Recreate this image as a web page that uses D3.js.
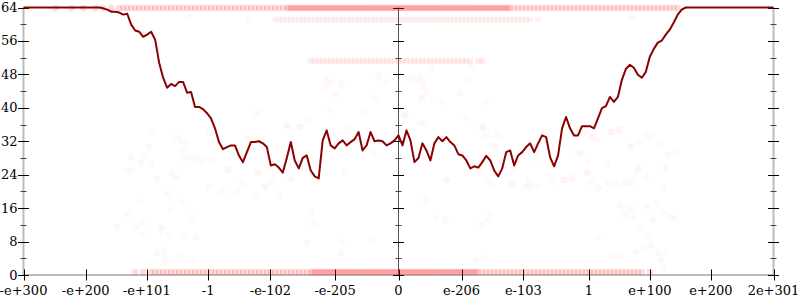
<!DOCTYPE html>
<html>
<head>
<meta charset="utf-8">
<script src="https://cdn.jsdelivr.net/npm/d3@7"></script>
<style>
  body { margin: 0; background: #fff; }
  svg { display: block; font-family: "DejaVu Serif", serif; }
</style>
</head>
<body>
<div id="chart"></div>
<script>
// x positions are in units of the sorted-bit-pattern axis, -94 .. 94
const xTickValues = [-94, -78.4, -63.1, -47.7, -32.1, -15.9, 0, 15.8, 31.3, 47.7, 63.0, 78.3, 94];
const xTickLabels = ['-e+300', '-e+200', '-e+101', '-1', '-e-102', '-e-205', '0',
  'e-206', 'e-103', '1', 'e+100', 'e+200', '2e+301'];
const yMajorTicks = [0, 8, 16, 24, 32, 40, 48, 56, 64];
const yMinorTicks = [4, 12, 20, 28, 36, 44, 52, 60];

// smoothed curve, one sample per axis unit from -94 to 94
const lineValues = [
  64, 64, 64, 64, 64, 64, 64, 64, 64, 64,
  64, 64, 64, 64, 64, 64, 64, 64, 64, 64,
  63.8, 63.5, 63.0, 63.0, 62.8, 62.3, 62.5, 59.9, 58.5, 58.2,
  57.0, 57.5, 58.2, 56.3, 50.8, 47.2, 44.8, 45.7, 45.2, 46.2,
  46.2, 43.6, 43.8, 40.2, 40.2, 39.7, 38.7, 37.5, 35.1, 31.8,
  30.1, 30.6, 31.0, 31.0, 28.6, 27.0, 29.4, 31.8, 31.8, 32.0,
  31.5, 30.6, 26.2, 26.5, 25.7, 24.5, 28.0, 31.8, 27.4, 25.5,
  28.0, 28.6, 25.0, 23.6, 23.1, 32.2, 34.6, 31.0, 30.3, 31.5,
  32.2, 31.0, 31.8, 32.5, 34.2, 29.8, 31.0, 34.2, 32.0, 32.2,
  32.0, 31.0, 31.5, 32.2, 33.4, 31.0, 34.6, 32.2, 27.0, 28.0,
  31.5, 29.8, 27.4, 31.5, 33.0, 32.0, 33.0, 31.8, 31.0, 28.9,
  28.6, 27.4, 25.5, 26.0, 25.7, 27.0, 28.5, 27.4, 25.0, 23.6,
  25.5, 29.4, 29.8, 26.2, 28.6, 29.4, 30.6, 31.5, 29.4, 31.5,
  33.4, 33.0, 28.2, 26.0, 28.6, 35.1, 37.8, 35.1, 33.4, 33.4,
  35.6, 35.6, 35.6, 35.1, 37.5, 39.9, 40.4, 42.6, 41.4, 42.6,
  46.7, 49.3, 50.3, 49.6, 47.9, 47.2, 48.6, 52.2, 54.1, 55.6,
  56.1, 57.5, 58.7, 60.4, 62.3, 63.5, 64, 64, 64, 64,
  64, 64, 64, 64, 64, 64, 64, 64, 64, 64,
  64, 64, 64, 64, 64, 64, 64, 64, 64
];

// dense rows of samples
const topBandY = 63.9;
const topBandX = [-86, -82, -79, -76, -74, -72,
  -70, -69, -68, -67, -66, -65, -64, -63, -62, -61, -60, -59, -58, -57, -56, -55, -54, -53, -52, -51,
  -50, -49, -48, -47, -46, -45, -44, -43, -42, -41, -40, -39, -38, -37, -36, -35, -34, -33, -32, -31,
  -30, -29, -28, -27.5, -27, -26.5, -26, -25.5, -25, -24.5, -24, -23.5, -23, -22.5, -22, -21.5, -21,
  -20.5, -20, -19.5, -19, -18.5, -18, -17.5, -17, -16.5, -16, -15.5, -15, -14.5, -14, -13.5, -13,
  -12.5, -12, -11.5, -11, -10.5, -10, -9.5, -9, -8.5, -8, -7.5, -7, -6.5, -6, -5.5, -5, -4.5, -4,
  -3.5, -3, -2.5, -2, -1.5, -1, -0.5, 0, 0.5, 1, 1.5, 2, 2.5, 3, 3.5, 4, 4.5, 5, 5.5, 6, 6.5, 7, 7.5,
  8, 8.5, 9, 9.5, 10, 10.5, 11, 11.5, 12, 12.5, 13, 13.5, 14, 14.5, 15, 15.5, 16, 16.5, 17, 17.5, 18,
  18.5, 19, 19.5, 20, 20.5, 21, 21.5, 22, 22.5, 23, 23.5, 24, 24.5, 25, 25.5, 26, 26.5, 27, 27.5, 28,
  29, 30, 31, 32, 33, 34, 35, 36, 37, 38, 39, 40, 41, 42, 43, 44, 45, 46, 47, 48, 49, 50, 51, 52, 53,
  54, 55, 56, 57, 58, 59, 60, 61, 62, 63, 64, 65, 66, 67, 68, 69, 70];
const bottomBandY = 0.7;
const bottomBandX = [-66, -64, -62, -61, -60, -59, -58, -57, -56, -55, -54, -53, -52, -51, -50, -49,
  -48, -47, -46, -45, -44, -43, -42, -41, -40, -39, -38, -37, -36, -35, -34, -33, -32, -31, -30, -29,
  -28, -27, -26, -25, -24, -23, -22, -21.5, -21, -20.5, -20, -19.5, -19, -18.5, -18, -17.5, -17, -16.5,
  -16, -15.5, -15, -14.5, -14, -13.5, -13, -12.5, -12, -11.5, -11, -10.5, -10, -9.5, -9, -8.5, -8,
  -7.5, -7, -6.5, -6, -5.5, -5, -4.5, -4, -3.5, -3, -2.5, -2, -1.5, -1, -0.5, 0, 0.5, 1, 1.5, 2, 2.5,
  3, 3.5, 4, 4.5, 5, 5.5, 6, 6.5, 7, 7.5, 8, 8.5, 9, 9.5, 10, 10.5, 11, 11.5, 12, 12.5, 13, 13.5, 14,
  14.5, 15, 15.5, 16, 16.5, 17, 17.5, 18, 18.5, 19, 19.5, 20, 21, 22, 23, 24, 25, 26, 27, 28, 29, 30,
  31, 32, 33, 34, 35, 36, 37, 38, 39, 40, 41, 42, 43, 44, 45, 46, 47, 48, 49, 50, 51, 52, 53, 54, 55,
  56, 57, 58, 59, 60, 61, 63];
const band61Y = 61.1;
const band61X = [-31, -30, -29, -28, -27, -26, -25, -24, -23, -22, -21, -20, -19, -18, -17, -16, -15,
  -14, -13, -12, -11, -10, -9, -8, -7, -6, -5, -4, -3, -2, -1, 0, 1, 2, 3, 4, 5, 6, 7, 8, 9, 10, 11,
  12, 13, 14, 15, 16, 17, 18, 19, 20, 21, 22, 23, 24, 25, 26, 27, 28, 29, 30, 31, 32, 33, 35];
const band51Y = 51.2;
const band51X = [-22, -21, -20, -19, -18, -17, -16, -15, -14, -13, -12, -11, -10, -9, -8, -7, -6, -5,
  -4, -3, -2, -1, 0, 1, 2, 3, 4, 5, 6, 7, 8, 9, 10, 11, 12, 13, 14, 15, 16, 17, 18, 20, 21];

// loose samples [x, y]
const loosePoints = [
  [-61.8, 34.4], [-55.5, 33.0], [-54.5, 32.1], [-53, 31.8], [-54.3, 29.9], [-62.5, 30.6], [-67, 28.2],
  [-68.3, 24.9], [-67, 25.1], [-64.5, 26.8], [-63.8, 28.5], [-62, 26.8], [-54.3, 28.0], [-52.5, 28.0],
  [-50.8, 28.0], [-49.3, 27.3], [-46.8, 27.3], [-56.8, 24.4], [-55.8, 23.4], [-60.5, 23.0], [-58, 19.6],
  [-47.5, 21.1], [-44.3, 19.9], [-40.5, 19.9], [-39.3, 22.0], [-35.5, 38.8], [-35, 24.4], [-31.8, 22.2],
  [-33.3, 21.1], [-27.8, 35.6], [-22.5, 37.1], [-25, 35.4], [-17, 39.5], [-15.8, 43.1], [-13, 35.2],
  [-13.3, 24.4], [-26.8, 26.3], [-27, 22.7], [-30, 18.7], [-42.5, 25.1], [-35.8, 18.7], [5.8, 42.3],
  [10.8, 41.4], [15.5, 43.5], [21.8, 41.4], [17, 37.6], [5.5, 36.4], [1.8, 38.3], [20.8, 35.4],
  [22, 33.5], [25, 33.5], [24.3, 30.4], [28.8, 25.1], [38, 23.4], [38.8, 22.2], [41.8, 22.7],
  [43.3, 22.7], [45, 29.4], [47.5, 27.0], [48.3, 32.8], [50, 32.3], [53.3, 34.2], [55, 34.7],
  [58.3, 31.1], [60, 31.8], [52.3, 26.8], [47.3, 24.6], [60, 25.1], [62, 23.2], [52.5, 22.2],
  [50, 20.8], [54.5, 21.5], [56.8, 22.0], [12.5, 22.7], [22.5, 22.7], [23.3, 21.5], [28.8, 21.5],
  [32.5, 22.7], [32, 21.1], [35, 21.1], [20, 25.1], [55.5, 16.7], [58, 16.0], [62.5, 16.3],
  [64.5, 17.2], [66.3, 15.1], [68, 13.9], [69.3, 13.6], [58.8, 13.9], [56.8, 14.4], [63.8, 13.2],
  [60.5, 11.2], [62.5, 9.6], [50, 9.1], [61.3, 6.7], [63.3, 7.2], [65, 5.3], [67, 5.3], [65.8, 3.6],
  [66.3, 1.7], [53.8, 4.3], [55.5, 4.8], [59.5, 5.5], [-68, 14.4], [-70.5, 11.5], [-65.8, 11.2],
  [-64.3, 12.4], [-59.5, 11.5], [-59.3, 10.8], [-57.5, 9.6], [-57, 15.6], [-53.8, 9.1], [-51.8, 13.6],
  [-50.8, 9.1], [-60.5, 5.3], [-58.8, 6.0], [-58.3, 4.1], [-58.8, 2.9], [-54.5, 4.8], [-51.3, 3.6],
  [-64.3, 9.6], [-65, 17.5], [-54.3, 17.5], [-21.8, 15.1], [-21.3, 12.4], [-23, 7.7], [-14.3, 7.9],
  [-14.5, 5.3], [-6.3, 8.4], [6.8, 17.9], [9.3, 13.6], [11.8, 13.2], [20.8, 12.0], [23, 14.8],
  [22.5, 13.2], [19.5, 3.6], [21.3, 4.1], [-52.5, 61.7], [-37.5, 61.0], [58.5, 61.7], [-18, 46.7],
  [-17, 45.9], [-18.3, 45.0], [-14.3, 45.5], [-5, 47.8], [-3, 46.2], [1.8, 47.1], [3, 47.1],
  [4.5, 46.7], [5.5, 47.6], [6.3, 46.2], [6.3, 44.7], [7, 43.8], [8.3, 49.3], [17.5, 46.4],
  [18.3, 50.2], [5.8, 42.6], [-5.8, 42.3], [-28, 35.9], [-24.5, 35.4], [-8.8, 38.8], [1.3, 38.3],
  [-6.3, 29.2], [-35.5, 24.6], [-33.8, 21.1], [-27, 23.2], [6.8, 36.1], [21.3, 35.2], [23.8, 31.1],
  [34.5, 28.0], [12, 22.7], [28.3, 21.5], [33, 21.5], [53, 34.2], [55.3, 34.7], [62, 33.5],
  [63.3, 32.8], [65.8, 31.6], [67.5, 28.7], [69.3, 29.4], [58.3, 30.6], [60, 25.6], [66.8, 25.6],
  [47.5, 24.4], [48.3, 22.2], [41.3, 22.7], [43.8, 23.4], [58.3, 22.0], [66.3, 20.8], [48.8, 33.0],
  [46.8, 34.0], [45.8, 29.2], [-43, 25.1], [-38, 33.0], [-47.5, 34.0]
];

const width = 800;
const height = 300;

const x = d3.scaleLinear().domain([-94, 94]).range([23.5, 773.5]);
const y = d3.scaleLinear().domain([0, 64]).range([275, 7.5]);

const svg = d3.select('#chart').append('svg')
  .attr('width', width)
  .attr('height', height);

// axis lines
const axes = svg.append('g');
axes.append('line')
  .attr('x1', x(-94)).attr('x2', x(94))
  .attr('y1', y(0)).attr('y2', y(0))
  .attr('stroke', '#bbb').attr('stroke-width', 2);
[-94, 94].forEach((v) => {
  axes.append('line')
    .attr('x1', x(v)).attr('x2', x(v))
    .attr('y1', y(0)).attr('y2', y(64))
    .attr('stroke', '#bbb').attr('stroke-width', 2);
});
axes.append('line')
  .attr('x1', x(0)).attr('x2', x(0))
  .attr('y1', y(0)).attr('y2', y(64))
  .attr('stroke', '#555').attr('stroke-width', 1);

// y ticks on the three vertical axes
[-94, 0, 94].forEach((v) => {
  axes.selectAll(null)
    .data(yMajorTicks)
    .enter().append('line')
    .attr('x1', x(v) - 5.5).attr('x2', x(v) + 5.5)
    .attr('y1', d => Math.round(y(d)) + 0.5).attr('y2', d => Math.round(y(d)) + 0.5)
    .attr('stroke', '#000');
  axes.selectAll(null)
    .data(yMinorTicks)
    .enter().append('line')
    .attr('x1', x(v) - 3).attr('x2', x(v) + 3)
    .attr('y1', d => Math.round(y(d)) + 0.5).attr('y2', d => Math.round(y(d)) + 0.5)
    .attr('stroke', '#444');
});

axes.selectAll(null)
  .data(yMajorTicks)
  .enter().append('text')
  .attr('x', 17.5)
  .attr('y', d => y(d))
  .attr('dy', '0.35em')
  .attr('text-anchor', 'end')
  .attr('font-size', 13)
  .text(d => d);

// x ticks
axes.selectAll(null)
  .data(xTickValues)
  .enter().append('line')
  .attr('x1', d => Math.round(x(d)) + 0.5).attr('x2', d => Math.round(x(d)) + 0.5)
  .attr('y1', y(0) - 5.5).attr('y2', y(0) + 5.5)
  .attr('stroke', '#000');

axes.selectAll(null)
  .data(xTickValues)
  .enter().append('text')
  .attr('x', d => x(d))
  .attr('y', 295)
  .attr('text-anchor', 'middle')
  .attr('font-size', 13)
  .text((d, i) => xTickLabels[i]);

// samples
const dots = svg.append('g');
const drawRow = (xs, yv, op) => {
  dots.selectAll(null)
    .data(xs)
    .enter().append('circle')
    .attr('cx', d => x(d))
    .attr('cy', y(yv))
    .attr('r', 3)
    .attr('fill', 'red')
    .attr('fill-opacity', op)
    .attr('stroke', 'red')
    .attr('stroke-opacity', op * 0.8)
    .attr('stroke-width', 0.6);
};
drawRow(topBandX, topBandY, 0.13);
drawRow(bottomBandX, bottomBandY, 0.13);
drawRow(band61X, band61Y, 0.05);
drawRow(band51X, band51Y, 0.065);

dots.selectAll(null)
  .data(loosePoints)
  .enter().append('circle')
  .attr('cx', d => x(d[0]))
  .attr('cy', d => y(d[1]))
  .attr('r', 3)
  .attr('fill', 'red')
  .attr('fill-opacity', 0.02)
  .attr('stroke', 'red')
  .attr('stroke-opacity', 0.035)
  .attr('stroke-width', 0.8);

// curve
const line = d3.line()
  .x((d, i) => x(i - 94))
  .y(d => y(d));

svg.append('path')
  .datum(lineValues)
  .attr('fill', 'none')
  .attr('stroke', '#8b0000')
  .attr('stroke-width', 2)
  .attr('stroke-linejoin', 'round')
  .attr('d', line);
</script>
</body>
</html>
